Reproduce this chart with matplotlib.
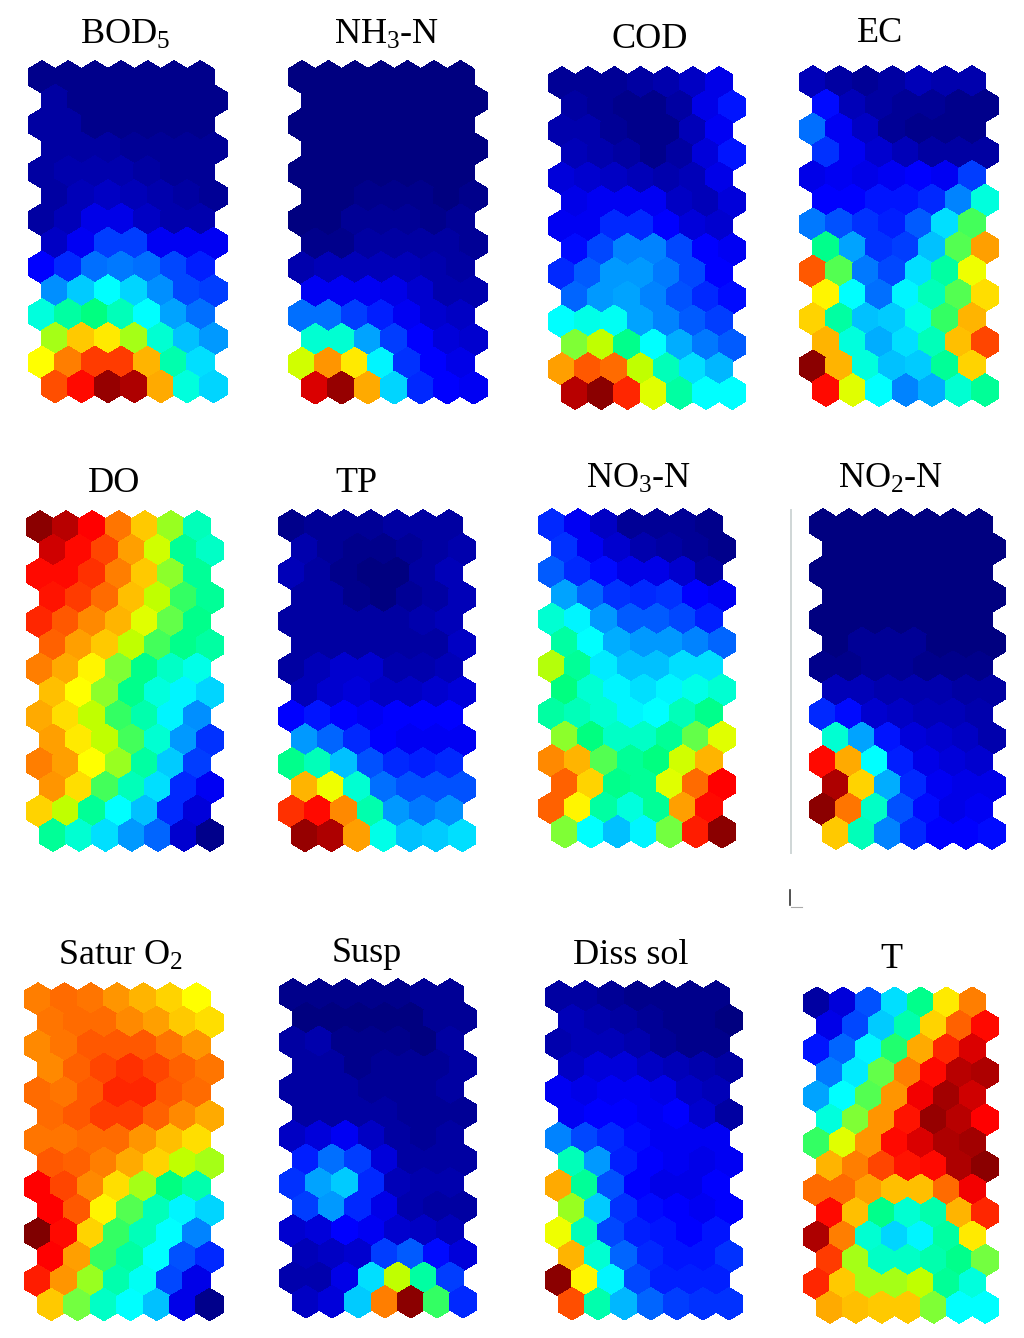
import numpy as np
import matplotlib
matplotlib.use("Agg")
import matplotlib.pyplot as plt
from matplotlib.collections import PolyCollection
from matplotlib.colors import LinearSegmentedColormap, Normalize
from matplotlib.lines import Line2D

plt.rcParams['font.family'] = ['Liberation Serif', 'DejaVu Serif']
plt.rcParams['mathtext.fontset'] = 'custom'
plt.rcParams['mathtext.rm'] = 'Liberation Serif'
plt.rcParams['mathtext.it'] = 'Liberation Serif'

BOD5 = [[1,1,1,1,1,1,1],[3,1,1,1,1,1,1],[3,3,1,1,1,1,1],[3,3,3,2,2,2,2],[3,4,4,4,3,2,2],[3,5,6,5,4,3,2],[3,5,9,9,6,4,4],
        [6,10,17,17,10,10,10],[11,15,22,23,22,18,14],[25,31,36,32,25,18,17],[39,44,47,42,36,27,22],[58,69,66,58,40,30,26],[64,76,83,83,71,43,33],[81,88,98,96,72,39,32]]
NH3N = [[0,0,0,0,0,0,0],[0,0,0,0,0,0,0],[0,0,0,0,0,0,0],[0,0,0,0,0,0,0],[0,0,0,0,0,0,0],[0,0,1,1,1,0,1],[0,0,2,2,2,1,2],
        [1,1,3,3,3,3,2],[4,5,5,5,5,4,3],[10,10,10,9,7,4,4],[22,22,17,14,10,7,6],[40,40,27,17,11,8,7],[61,74,66,35,16,11,9],[92,98,72,32,15,11,10]]
COD = [[2,2,2,3,4,6,9],[3,2,1,1,3,9,13],[4,4,2,1,1,5,10],[5,4,3,1,3,8,13],[8,7,6,5,4,5,9],[9,10,10,10,6,5,8],[10,10,15,15,11,8,7],
       [12,18,24,24,18,11,10],[15,20,26,26,23,18,11],[21,26,27,24,19,15,12],[36,38,37,27,24,20,17],[55,60,46,36,28,23,20],[73,80,78,60,42,33,29],[95,99,85,62,44,36,36]]
EC = [[5,3,2,3,5,4,4],[12,5,3,2,2,1,1],[22,10,6,2,1,1,1],[16,10,7,5,3,3,3],[9,10,9,10,11,10,17],[11,11,13,13,15,24,39],[23,19,16,14,20,33,51],
      [46,27,16,17,30,52,73],[80,52,23,18,33,44,63],[65,36,22,35,42,52,67],[68,44,30,31,38,50,71],[71,39,28,33,42,70,82],[99,71,39,30,31,45,68],[88,62,36,24,28,40,45]]
DO = [[99,95,89,77,69,57,42],[93,88,82,73,61,45,41],[88,88,84,76,69,56,45],[87,83,78,70,60,50,45],[85,80,75,71,62,53,46],[79,73,69,60,51,46,44],[76,72,65,55,46,41,38],
      [70,64,56,46,39,35,32],[72,67,60,50,43,35,25],[73,66,60,51,40,26,16],[76,73,64,57,44,31,17],[74,67,51,42,33,15,10],[68,60,45,36,30,15,8],[45,40,33,26,21,7,1]]
TP = [[1,2,2,2,3,3,3],[4,2,1,1,2,3,4],[5,3,1,0,0,3,5],[3,3,1,0,2,3,5],[3,3,3,3,3,4,5],[3,3,3,3,3,3,6],[3,5,7,7,4,4,5],
      [5,7,8,6,6,7,8],[11,13,11,10,11,11,11],[26,21,15,11,10,10,10],[46,42,30,19,15,14,15],[71,63,40,22,19,19,19],[84,88,75,43,26,23,25],[98,96,73,38,30,31,33]]
NO3N = [[15,10,6,2,2,2,1],[16,10,7,4,3,2,1],[20,15,12,9,9,7,3],[27,21,16,15,16,11,10],[40,35,26,20,20,18,14],[44,36,28,26,26,24,21],[59,45,34,30,30,33,33],
        [47,40,35,33,35,38,40],[44,42,40,35,36,42,46],[56,47,41,41,45,53,62],[75,71,52,45,47,61,71],[79,68,46,45,62,78,89],[79,65,44,39,45,73,88],[55,36,30,35,54,86,99]]
NO2N = [[0,0,0,0,0,0,0],[0,0,0,0,0,0,0],[0,0,0,0,0,0,0],[0,0,0,0,0,0,0],[0,0,0,0,0,0,0],[0,2,2,2,0,0,0],[1,1,2,2,1,1,1],
        [5,5,4,4,4,3,3],[15,12,7,6,5,5,4],[40,27,13,8,7,6,4],[88,72,36,14,9,8,7],[96,68,28,15,10,9,9],[99,77,41,19,12,9,10],[69,42,24,15,11,11,12]]
SATUR = [[76,78,77,74,71,68,64],[77,78,78,75,73,69,67],[75,77,80,80,80,77,74],[75,79,82,84,82,79,77],[78,77,80,85,85,80,78],[78,80,83,83,79,75,72],[77,77,78,78,74,70,67],
         [80,79,76,72,68,60,58],[89,82,75,67,58,47,43],[89,80,65,52,42,35,32],[100,88,68,50,42,36,24],[89,73,50,44,36,19,15],[86,74,57,43,37,18,9],[69,54,41,36,30,9,1]]
SUSP = [[1,1,1,1,1,2,2],[0,0,0,0,0,2,2],[3,4,1,1,1,0,3],[3,3,1,2,2,2,3],[3,3,3,2,2,2,3],[3,3,3,3,2,2,2],[6,8,10,6,3,2,3],
        [14,22,17,8,3,3,3],[16,27,31,15,5,4,4],[17,26,15,9,4,3,3],[7,8,11,10,7,6,5],[5,6,7,17,20,12,8],[4,4,9,33,60,44,17],[6,8,31,76,99,50,15]]
DISS = [[3,3,2,1,1,1,1],[5,4,3,2,1,1,0],[4,5,5,4,2,1,1],[6,8,8,6,5,4,3],[10,9,10,10,9,6,5],[10,11,11,10,11,7,3],[24,18,15,12,10,10,10],
        [42,26,14,11,10,9,10],[72,45,19,11,9,9,11],[57,31,16,12,11,10,11],[63,42,18,14,13,11,13],[71,40,21,15,13,13,16],[99,65,35,18,14,14,14],[81,43,29,21,17,16,16]]
TEMP = [[3,8,19,33,46,66,76],[9,18,31,43,68,79,88],[13,21,35,49,72,85,92],[23,34,53,76,88,95,96],[27,36,52,74,90,97,93],[39,55,74,87,98,95,89],[50,62,74,88,92,96,97],
        [71,76,82,87,88,96,99],[78,78,73,70,70,78,90],[88,70,46,40,43,71,85],[96,76,40,32,35,44,66],[83,58,41,41,43,46,54],[85,69,58,58,60,45,39],[72,70,69,69,55,36,36]]

# values, title, title centre (px), first-cell centre (px), cell spacing (px)
panels = [
    (BOD5, 'BOD$_5$', 125, 35, 42, 77, 26.4, 23.8),
    (NH3N, 'NH$_3$-N', 387, 35, 302, 77, 26.4, 23.9),
    (COD, 'COD', 650, 39, 562, 83, 26.2, 23.85),
    (EC, 'EC', 880, 34, 813, 82, 26.5, 23.7),
    (DO, 'DO', 114, 483, 40, 527, 26.2, 23.7),
    (TP, 'TP', 356, 483, 292, 526, 26.2, 23.8),
    (NO3N, 'NO$_3$-N', 639, 479, 552, 525, 26.2, 23.6),
    (NO2N, 'NO$_2$-N', 891, 479, 823, 525, 26.0, 23.7),
    (SATUR, 'Satur O$_2$', 120, 956, 38, 999, 26.4, 23.5),
    (SUSP, 'Susp', 367, 953, 293, 995, 26.2, 23.6),
    (DISS, 'Diss sol', 631, 956, 559, 997, 26.2, 23.6),
    (TEMP, 'T', 891, 960, 817, 1003, 25.9, 23.4),
]

anchors = [(0, (0, 0, .5)), (11, (0, 0, 1)), (36, (0, 1, 1)), (47, (0, 1, .5)), (54, (.45, 1, .25)),
           (60, (.75, 1, 0)), (64, (1, 1, 0)), (76, (1, .5, 0)), (89, (1, 0, 0)), (100, (.5, 0, 0))]
cmap = LinearSegmentedColormap.from_list('som', [(a / 100, c) for a, c in anchors], N=512)
norm = Normalize(0, 100)

W, H = 1024, 1338
fig = plt.figure(figsize=(W / 100, H / 100), dpi=100, facecolor='white')
hexagon = np.array([(0, -2/3), (.5, -1/3), (.5, 1/3), (0, 2/3), (-.5, 1/3), (-.5, -1/3)])

for values, title, tx, ty, x0, y0, dx, dy in panels:
    vals = np.array(values, float)
    nrow, ncol = vals.shape
    left = x0 - dx
    bottom = y0 + nrow * dy
    ax = fig.add_axes([left / W, 1 - bottom / H, (ncol + 2) * dx / W, (nrow + 1) * dy / H])
    ax.set_xlim(-1, ncol + 1)
    ax.set_ylim(nrow, -1)
    ax.axis('off')
    polys, cvals = [], []
    for r in range(nrow):
        for c in range(ncol):
            polys.append(hexagon + (c + .5 * (r % 2), r))
            cvals.append(vals[r, c])
    pc = PolyCollection(polys, array=np.array(cvals), cmap=cmap, norm=norm,
                        edgecolors='face', linewidths=0.6, antialiaseds=False)
    ax.add_collection(pc)
    fig.text(tx / W, 1 - ty / H, title, ha='center', va='center', fontsize=26, color='black')

# stray marks left in the source figure
fig.add_artist(Line2D([790.5 / W, 790.5 / W], [1 - 510 / H, 1 - 853 / H], color='#cfd6d6', lw=1.4))
fig.add_artist(Line2D([789.5 / W, 789.5 / W], [1 - 890 / H, 1 - 905 / H], color='#333333', lw=1.2))
fig.add_artist(Line2D([791 / W, 802 / W], [1 - 907 / H, 1 - 907 / H], color='#aaaaaa', lw=0.8))

fig.savefig('out.png', dpi=100, facecolor='white')
